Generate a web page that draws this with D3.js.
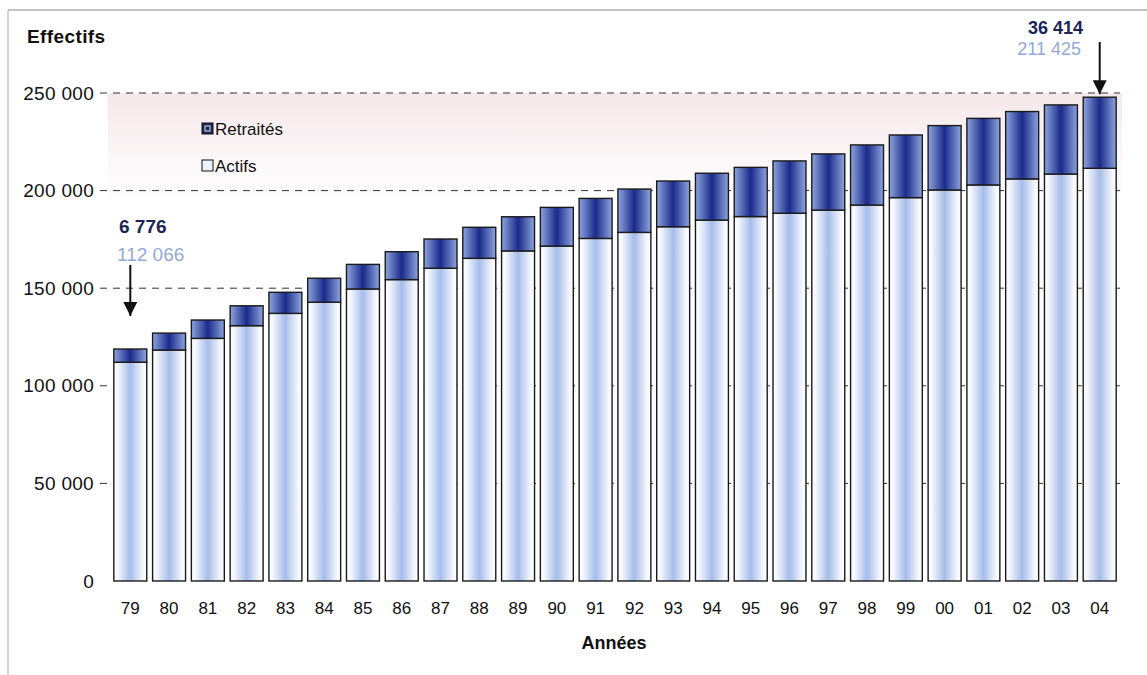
<!DOCTYPE html>
<html>
<head>
<meta charset="utf-8">
<script src="https://cdn.jsdelivr.net/npm/d3@7"></script>
<style>
  body { margin: 0; background: #fff; }
  text { font-family: "Liberation Sans", Arial, sans-serif; }
</style>
</head>
<body>
<div id="chart"></div>
<script>
// values
var years = ["79", "80", "81", "82", "83", "84", "85", "86", "87", "88", "89", "90", "91",
  "92", "93", "94", "95", "96", "97", "98", "99", "00", "01", "02", "03", "04"];
var actifs = [112066, 118300, 124300, 130800, 137100, 142800, 149600, 154400, 160200, 165300,
  169100, 171600, 175500, 178600, 181500, 184900, 186700, 188400, 190000, 192600,
  196400, 200300, 202900, 206000, 208500, 211425];
var retraites = [6776, 8700, 9400, 10200, 10800, 12300, 12600, 14300, 15000, 15900,
  17500, 19800, 20500, 22200, 23400, 24000, 25200, 26800, 28800, 30800,
  32100, 33000, 34100, 34500, 35400, 36414];
var yTicks = [0, 50000, 100000, 150000, 200000, 250000];

var svgWidth = 1147;
var svgHeight = 675;

var svg = d3.select("#chart")
  .append("svg")
  .attr("width", svgWidth)
  .attr("height", svgHeight);

var defs = svg.append("defs");

// horizontal gradients for the bars
var gA = defs.append("linearGradient").attr("id", "gActif");
gA.append("stop").attr("offset", "0%").attr("stop-color", "#ffffff");
gA.append("stop").attr("offset", "12%").attr("stop-color", "#f4f7fd");
gA.append("stop").attr("offset", "50%").attr("stop-color", "#a6bdea");
gA.append("stop").attr("offset", "88%").attr("stop-color", "#f4f7fd");
gA.append("stop").attr("offset", "100%").attr("stop-color", "#ffffff");

var gR = defs.append("linearGradient").attr("id", "gRetr");
gR.append("stop").attr("offset", "0%").attr("stop-color", "#8ea5de");
gR.append("stop").attr("offset", "50%").attr("stop-color", "#1a2a8a");
gR.append("stop").attr("offset", "100%").attr("stop-color", "#8ea5de");

// pinkish wash at the top of the plot
var gBg = defs.append("linearGradient").attr("id", "gBg")
  .attr("x1", 0).attr("x2", 0).attr("y1", 0).attr("y2", 1);
gBg.append("stop").attr("offset", "0%").attr("stop-color", "#f5e8eb");
gBg.append("stop").attr("offset", "100%").attr("stop-color", "#ffffff");

var arrow = defs.append("marker")
  .attr("id", "arrowHead")
  .attr("viewBox", "0 0 10 10")
  .attr("refX", 10).attr("refY", 5)
  .attr("markerUnits", "userSpaceOnUse")
  .attr("markerWidth", 14).attr("markerHeight", 14)
  .attr("orient", "auto");
arrow.append("path").attr("d", "M0,0 L10,5 L0,10 z").attr("fill", "#111");

// scales
var xScale = d3.scaleBand()
  .domain(years)
  .range([108, 1122])
  .padding(0.15);

var yScale = d3.scaleLinear()
  .domain([0, 250000])
  .range([581, 93]);

// frame lines
svg.append("line").attr("x1", 8).attr("x2", 1147).attr("y1", 10).attr("y2", 10)
  .attr("stroke", "#888").attr("stroke-width", 1);
svg.append("line").attr("x1", 8).attr("x2", 8).attr("y1", 10).attr("y2", 675)
  .attr("stroke", "#aaa").attr("stroke-width", 1);

// background wash
svg.append("rect")
  .attr("x", 108).attr("y", yScale(250000))
  .attr("width", 1014).attr("height", yScale(195000) - yScale(250000))
  .attr("fill", "url(#gBg)");

// dashed gridlines
svg.append("g")
  .selectAll("line")
  .data(yTicks.filter(d => d > 0))
  .enter()
  .append("line")
  .attr("x1", 100)
  .attr("x2", 1120)
  .attr("y1", d => yScale(d))
  .attr("y2", d => yScale(d))
  .attr("stroke", "#333")
  .attr("stroke-width", 1)
  .attr("stroke-dasharray", "7,6");

// y axis
var fmt = d => d3.format(",")(d).replace(/,/g, " ");
var leftAxis = d3.axisLeft(yScale).tickValues(yTicks).tickSize(0).tickPadding(0).tickFormat(fmt);
var yAxisG = svg.append("g")
  .attr("transform", "translate(94,0)")
  .call(leftAxis);
yAxisG.select(".domain").remove();
yAxisG.selectAll("text")
  .attr("font-size", 19)
  .attr("letter-spacing", 0.3)
  .attr("fill", "#111")
  .attr("font-family", "Liberation Sans, Arial, sans-serif");

// x axis
var bottomAxis = d3.axisBottom(xScale).tickSize(0).tickPadding(0);
var xAxisG = svg.append("g")
  .attr("transform", "translate(0,602)")
  .call(bottomAxis);
xAxisG.select(".domain").remove();
xAxisG.selectAll("text")
  .attr("font-size", 17)
  .attr("fill", "#111")
  .attr("font-family", "Liberation Sans, Arial, sans-serif");

// bars
var data = years.map((y, i) => ({ year: y, actifs: actifs[i], retraites: retraites[i] }));

var bars = svg.append("g").selectAll("g")
  .data(data)
  .enter()
  .append("g");

bars.append("rect")
  .attr("x", d => xScale(d.year))
  .attr("y", d => yScale(d.actifs))
  .attr("width", xScale.bandwidth())
  .attr("height", d => yScale(0) - yScale(d.actifs))
  .attr("fill", "url(#gActif)")
  .attr("stroke", "#1a1a1a")
  .attr("stroke-width", 1.4);

bars.append("rect")
  .attr("x", d => xScale(d.year))
  .attr("y", d => yScale(d.actifs + d.retraites))
  .attr("width", xScale.bandwidth())
  .attr("height", d => yScale(d.actifs) - yScale(d.actifs + d.retraites))
  .attr("fill", "url(#gRetr)")
  .attr("stroke", "#1a1a1a")
  .attr("stroke-width", 1.4);

// titles
svg.append("text")
  .attr("x", 27).attr("y", 43)
  .attr("font-size", 19).attr("font-weight", "bold").attr("fill", "#111")
  .attr("letter-spacing", 0.4)
  .text("Effectifs");

svg.append("text")
  .attr("x", 614).attr("y", 649)
  .attr("text-anchor", "middle")
  .attr("font-size", 18).attr("font-weight", "bold").attr("fill", "#111")
  .text("Années");

// legend
var legend = svg.append("g").attr("transform", "translate(202,123)");
legend.append("rect").attr("x", 0).attr("y", 0).attr("width", 11).attr("height", 11)
  .attr("fill", "#1f2a5c").attr("stroke", "#111");
legend.append("rect").attr("x", 3).attr("y", 3).attr("width", 5).attr("height", 5)
  .attr("fill", "none").attr("stroke", "#ddd").attr("stroke-width", 1);
legend.append("text").attr("x", 13).attr("y", 12)
  .attr("font-size", 17).attr("fill", "#111").text("Retraités");
legend.append("rect").attr("x", 0).attr("y", 37).attr("width", 11).attr("height", 11)
  .attr("fill", "#eef2fa").attr("stroke", "#111");
legend.append("text").attr("x", 13).attr("y", 49)
  .attr("font-size", 17).attr("fill", "#111").text("Actifs");

// annotations for first and last year
var first = data[0];
var last = data[data.length - 1];
var cxFirst = xScale(first.year) + xScale.bandwidth() / 2;
var cxLast = xScale(last.year) + xScale.bandwidth() / 2;

svg.append("text").attr("x", 119).attr("y", 233)
  .attr("font-size", 19).attr("font-weight", "bold").attr("fill", "#1b2556")
  .text(fmt(first.retraites));
svg.append("text").attr("x", 117).attr("y", 261)
  .attr("font-size", 19).attr("fill", "#93a9d6")
  .text(fmt(first.actifs));
svg.append("line")
  .attr("x1", cxFirst).attr("x2", cxFirst)
  .attr("y1", 265).attr("y2", 316)
  .attr("stroke", "#111").attr("stroke-width", 2)
  .attr("marker-end", "url(#arrowHead)");

svg.append("text").attr("x", 1083).attr("y", 34)
  .attr("text-anchor", "end")
  .attr("font-size", 18).attr("font-weight", "bold").attr("fill", "#1b2556")
  .text(fmt(last.retraites));
svg.append("text").attr("x", 1081).attr("y", 55)
  .attr("text-anchor", "end")
  .attr("font-size", 18).attr("fill", "#93a9d6")
  .text(fmt(last.actifs));
svg.append("line")
  .attr("x1", cxLast).attr("x2", cxLast)
  .attr("y1", 42).attr("y2", yScale(last.actifs + last.retraites) - 3)
  .attr("stroke", "#111").attr("stroke-width", 2)
  .attr("marker-end", "url(#arrowHead)");
</script>
</body>
</html>
